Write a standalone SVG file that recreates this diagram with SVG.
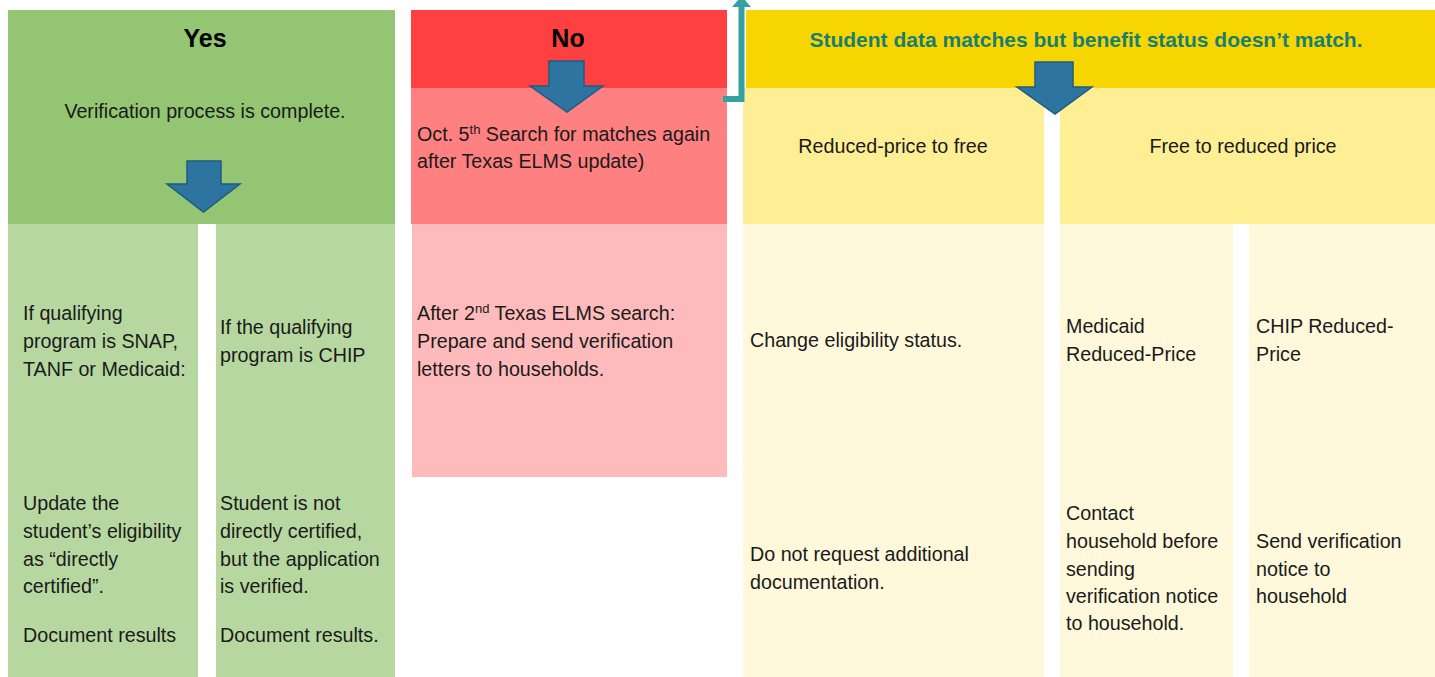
<svg xmlns="http://www.w3.org/2000/svg" width="1435" height="677" viewBox="0 0 1435 677">
<style>
  text { font-family: "Liberation Sans", Arial, sans-serif; fill: #1a1a1a; }
  .b { font-size: 19.7px; }
  .h { font-size: 25px; font-weight: bold; fill: #000; }
  .ht { font-size: 21px; font-weight: bold; fill: #177F70; }
  .mid { text-anchor: middle; }
  .arrow { fill: #2E74A0; stroke: #1F5C82; stroke-width: 1.5; }
  .sup { font-size: 13px; }
</style>
<rect width="1435" height="677" fill="#ffffff"/>

<g id="yes">
  <rect x="8" y="10" width="387" height="214" fill="#93C572"/>
  <text class="h mid" x="205" y="47">Yes</text>
  <text class="b mid" x="205" y="118">Verification process is complete.</text>
</g>
<g id="yes-snap">
  <rect x="8" y="224" width="190" height="453" fill="#B7D7A0"/>
  <text class="b" x="23" y="320">If qualifying</text>
  <text class="b" x="23" y="348">program is SNAP,</text>
  <text class="b" x="23" y="376">TANF or Medicaid:</text>
  <text class="b" x="23" y="510">Update the</text>
  <text class="b" x="23" y="538">student’s eligibility</text>
  <text class="b" x="23" y="566">as “directly</text>
  <text class="b" x="23" y="593">certified”.</text>
  <text class="b" x="23" y="642">Document results</text>
</g>
<g id="yes-chip">
  <rect x="216" y="224" width="179" height="453" fill="#B7D7A0"/>
  <text class="b" x="220" y="334">If the qualifying</text>
  <text class="b" x="220" y="362">program is CHIP</text>
  <text class="b" x="220" y="510">Student is not</text>
  <text class="b" x="220" y="538">directly certified,</text>
  <text class="b" x="220" y="566">but the application</text>
  <text class="b" x="220" y="593">is verified.</text>
  <text class="b" x="220" y="642">Document results.</text>
</g>

<g id="no">
  <rect x="411" y="10" width="316" height="78" fill="#FF4040"/>
  <text class="h mid" x="568" y="47">No</text>
</g>
<g id="no-search">
  <rect x="411" y="88" width="316" height="136" fill="#FF8080"/>
  <text class="b" x="417" y="141">Oct. 5<tspan class="sup" dy="-7">th</tspan><tspan dy="7"> Search for matches again</tspan></text>
  <text class="b" x="417" y="168">after Texas ELMS update)</text>
</g>
<g id="no-letters">
  <rect x="412" y="224" width="315" height="253" fill="#FFBBBB"/>
  <text class="b" x="417" y="320">After 2<tspan class="sup" dy="-7">nd</tspan><tspan dy="7"> Texas ELMS search:</tspan></text>
  <text class="b" x="417" y="348">Prepare and send verification</text>
  <text class="b" x="417" y="376">letters to households.</text>
</g>

<g id="mismatch">
  <rect x="746" y="10" width="689" height="78" fill="#F7D500"/>
  <text class="ht mid" x="1086" y="47">Student data matches but benefit status doesn’t match.</text>
</g>
<g id="reduced-to-free">
  <rect x="743" y="88" width="301" height="136" fill="#FEEF94"/>
  <text class="b mid" x="893" y="153">Reduced-price to free</text>
</g>
<g id="free-to-reduced">
  <rect x="1060" y="88" width="375" height="136" fill="#FEEF94"/>
  <text class="b mid" x="1243" y="153">Free to reduced price</text>
</g>
<g id="change-status">
  <rect x="743" y="224" width="301" height="453" fill="#FFF8DA"/>
  <text class="b" x="750" y="347">Change eligibility status.</text>
  <text class="b" x="750" y="561">Do not request additional</text>
  <text class="b" x="750" y="589">documentation.</text>
</g>
<g id="medicaid-reduced">
  <rect x="1060" y="224" width="173" height="453" fill="#FFF8DA"/>
  <text class="b" x="1066" y="333">Medicaid</text>
  <text class="b" x="1066" y="361">Reduced-Price</text>
  <text class="b" x="1066" y="520">Contact</text>
  <text class="b" x="1066" y="548">household before</text>
  <text class="b" x="1066" y="576">sending</text>
  <text class="b" x="1066" y="603">verification notice</text>
  <text class="b" x="1066" y="630">to household.</text>
</g>
<g id="chip-reduced">
  <rect x="1249" y="224" width="186" height="453" fill="#FFF8DA"/>
  <text class="b" x="1256" y="333">CHIP Reduced-</text>
  <text class="b" x="1256" y="361">Price</text>
  <text class="b" x="1256" y="548">Send verification</text>
  <text class="b" x="1256" y="576">notice to</text>
  <text class="b" x="1256" y="603">household</text>
</g>

<g id="connectors">
  <polygon class="arrow" points="187,161 221,161 221,184 240,184 203.5,212 167,184 187,184"/>
  <polygon class="arrow" points="549,61 584,61 584,86 603,86 567,112 530,86 549,86"/>
  <polygon class="arrow" points="1035,62 1073,62 1073,87 1092,87 1055,114 1017,87 1035,87"/>
  <polyline points="723,99 741.5,99 741.5,6" fill="none" stroke="#34A0A0" stroke-width="6"/>
  <polygon points="732,7 751,7 741.5,-4" fill="#34A0A0"/>
</g>
</svg>
